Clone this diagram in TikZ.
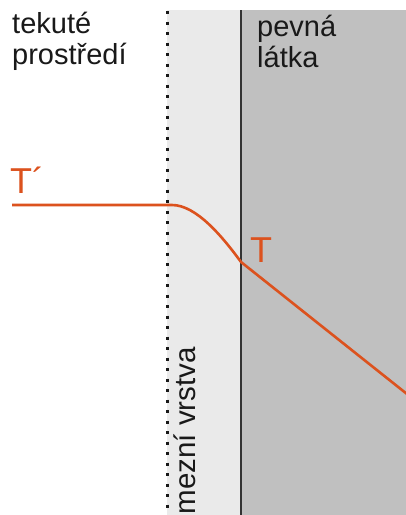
\documentclass[tikz,border=0pt]{standalone}
\usepackage{fontspec}
\setmainfont{Liberation Sans}
\definecolor{lightband}{RGB}{234,234,234}
\definecolor{darkband}{RGB}{192,192,192}
\definecolor{curvecol}{RGB}{220,82,30}
\definecolor{txt}{RGB}{25,25,25}
\begin{document}
\begin{tikzpicture}[x=1pt,y=-1pt,
  lbl/.style={anchor=base west, inner sep=0pt, text=txt, font=\fontsize{29}{32}\selectfont},
  tlbl/.style={anchor=base west, inner sep=0pt, text=curvecol, font=\fontsize{36}{40}\selectfont},
  tcurve/.style={draw=curvecol, line width=2.6pt},
  dotline/.style={draw=txt, line width=3pt, dash pattern=on 3pt off 7.5pt},
  wall/.style={draw=black!80, line width=1.4pt}]
\useasboundingbox (0,0) rectangle (406,515);
\fill[white] (0,0) rectangle (406,515);
\fill[lightband] (167,10) rectangle (241,515);
\fill[darkband] (241,10) rectangle (406,515);
\coordinate (dtop) at (167,11);
\coordinate (dbot) at (167,515);
\draw[dotline] (dtop) -- (dbot);
\coordinate (wtop) at (241,10);
\coordinate (wbot) at (241,515);
\draw[wall] (wtop) -- (wbot);
\node[lbl] (tek) at (12,33) {tekuté};
\node[lbl] (pro) at (12,64) {prostředí};
\node[lbl] (pev) at (257,36) {pevná};
\node[lbl] (lat) at (257,67) {látka};
\node[lbl, rotate=90, font=\fontsize{29.5}{32}\selectfont] (mez) at (195,514.5) {mezní vrstva};
\coordinate (start) at (12,205);
\coordinate (flat) at (172,205);
\coordinate (T0) at (241,262);
\coordinate (end) at (407,394);
\draw[tcurve] (start) -- (flat) .. controls (196,205) and (222,236) .. (T0) -- (end);
\node[tlbl] (tp) at (10,193) {T´};
\node[tlbl] (tt) at (250,262) {T};
\end{tikzpicture}
\end{document}
